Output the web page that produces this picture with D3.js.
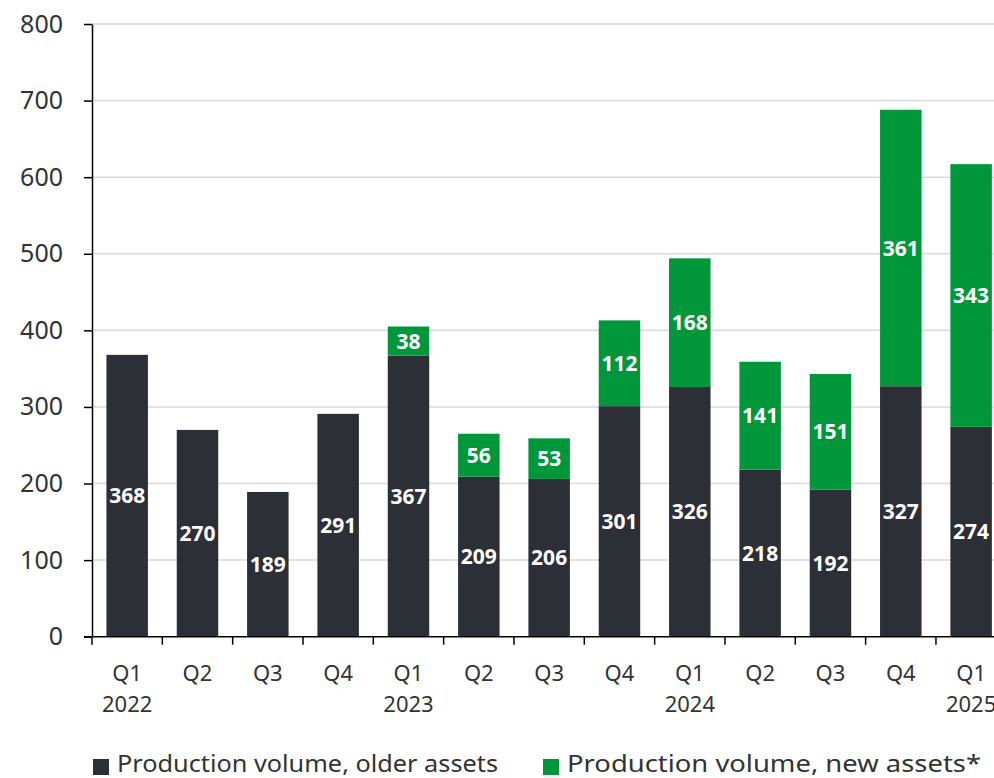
<!DOCTYPE html>
<html>
<head>
<meta charset="utf-8">
<script src="https://cdn.jsdelivr.net/npm/d3@7"></script>
<style>
  body { margin: 0; background: #fff; }
  svg { display: block; font-family: "Noto Sans", "Open Sans", sans-serif; }
</style>
</head>
<body>
<script>
// Data
const quarters = ["Q1", "Q2", "Q3", "Q4", "Q1", "Q2", "Q3", "Q4", "Q1", "Q2", "Q3", "Q4", "Q1"];
const years = ["2022", "", "", "", "2023", "", "", "", "2024", "", "", "", "2025"];
const olderAssets = [368, 270, 189, 291, 367, 209, 206, 301, 326, 218, 192, 327, 274];
const newAssets = [0, 0, 0, 0, 38, 56, 53, 112, 168, 141, 151, 361, 343];
const yTicks = [0, 100, 200, 300, 400, 500, 600, 700, 800];
const seriesNames = ["Production volume, older assets", "Production volume, new assets*"];
const colors = ["#2d2f37", "#00963a"];

const W = 994, H = 778;
const margin = { top: 24, left: 92 };
const plotH = 612.7;
const bandStep = 70.33;
const plotW = bandStep * quarters.length;
const FONT = '"Noto Sans", "Open Sans", sans-serif';

const svg = d3.select("body").append("svg").attr("width", W).attr("height", H);
const g = svg.append("g").attr("transform", `translate(${margin.left},${margin.top})`);

const keys = quarters.map((q, i) => i);
const x = d3.scaleBand().domain(keys).range([0, plotW]).paddingInner(0.41).paddingOuter(0.205);
const y = d3.scaleLinear().domain([0, 800]).range([plotH, 0]);

// gridlines
g.append("g").selectAll("line").data(yTicks.slice(1)).join("line")
  .attr("x1", 0).attr("x2", W).attr("y1", d => y(d)).attr("y2", d => y(d))
  .attr("stroke", "#d9d9d9").attr("stroke-width", 1.5);

// stacked bars
const rows = keys.map(i => ({ i, older: olderAssets[i], newer: newAssets[i] }));
const stack = d3.stack().keys(["older", "newer"])(rows);

const layer = g.selectAll("g.layer").data(stack).join("g")
  .attr("class", "layer").attr("fill", (d, k) => colors[k]);

layer.selectAll("rect").data(d => d.filter(s => s[1] - s[0] > 0)).join("rect")
  .attr("x", d => x(d.data.i))
  .attr("width", x.bandwidth())
  .attr("y", d => y(d[1]))
  .attr("height", d => y(d[0]) - y(d[1]));

layer.selectAll("text").data(d => d.filter(s => s[1] - s[0] > 0)).join("text")
  .attr("x", d => x(d.data.i) + x.bandwidth() / 2)
  .attr("y", d => (y(d[0]) + y(d[1])) / 2)
  .attr("dy", "0.36em")
  .attr("text-anchor", "middle")
  .attr("fill", "#fff")
  .attr("font-weight", "bold")
  .attr("font-size", 21)
  .text(d => d[1] - d[0]);

// y axis
const yAxis = g.append("g")
  .call(d3.axisLeft(y).tickValues(yTicks).tickSize(8).tickPadding(21).tickSizeOuter(0))
  .attr("font-family", FONT);
yAxis.select(".domain").attr("stroke", "#000").attr("stroke-width", 1.5);
yAxis.selectAll(".tick line").attr("stroke", "#000").attr("stroke-width", 1.5);
yAxis.selectAll(".tick text").attr("font-size", 25).attr("fill", "#333");

// x axis: boundary ticks between categories
const xAxisG = g.append("g").attr("transform", `translate(0,${plotH})`);
xAxisG.append("line").attr("x1", -8).attr("x2", plotW).attr("stroke", "#000").attr("stroke-width", 1.5);
xAxisG.selectAll("line.tk").data(d3.range(quarters.length + 1)).join("line")
  .attr("class", "tk")
  .attr("x1", d => d * x.step()).attr("x2", d => d * x.step())
  .attr("y1", 0).attr("y2", 8)
  .attr("stroke", "#000").attr("stroke-width", 1.5);

const xl = xAxisG.selectAll("text.q").data(keys).join("text")
  .attr("class", "q")
  .attr("x", d => x(d) + x.bandwidth() / 2)
  .attr("text-anchor", "middle")
  .attr("font-size", 22)
  .attr("fill", "#333");
xl.append("tspan").attr("x", d => x(d) + x.bandwidth() / 2).attr("y", 44).text(d => quarters[d]);
xl.append("tspan").attr("x", d => x(d) + x.bandwidth() / 2).attr("y", 75).text(d => years[d]);

// legend
const legendX = [93, 543];
const legendW = [381, 414];
const legend = svg.append("g").selectAll("g").data(seriesNames).join("g")
  .attr("transform", (d, i) => `translate(${legendX[i]},759)`);
legend.append("rect").attr("width", 16).attr("height", 16).attr("fill", (d, i) => colors[i]);
legend.append("text").attr("x", 24).attr("y", 13)
  .attr("font-size", 24).attr("fill", "#333")
  .attr("textLength", (d, i) => legendW[i]).attr("lengthAdjust", "spacingAndGlyphs")
  .text(d => d);
</script>
</body>
</html>
